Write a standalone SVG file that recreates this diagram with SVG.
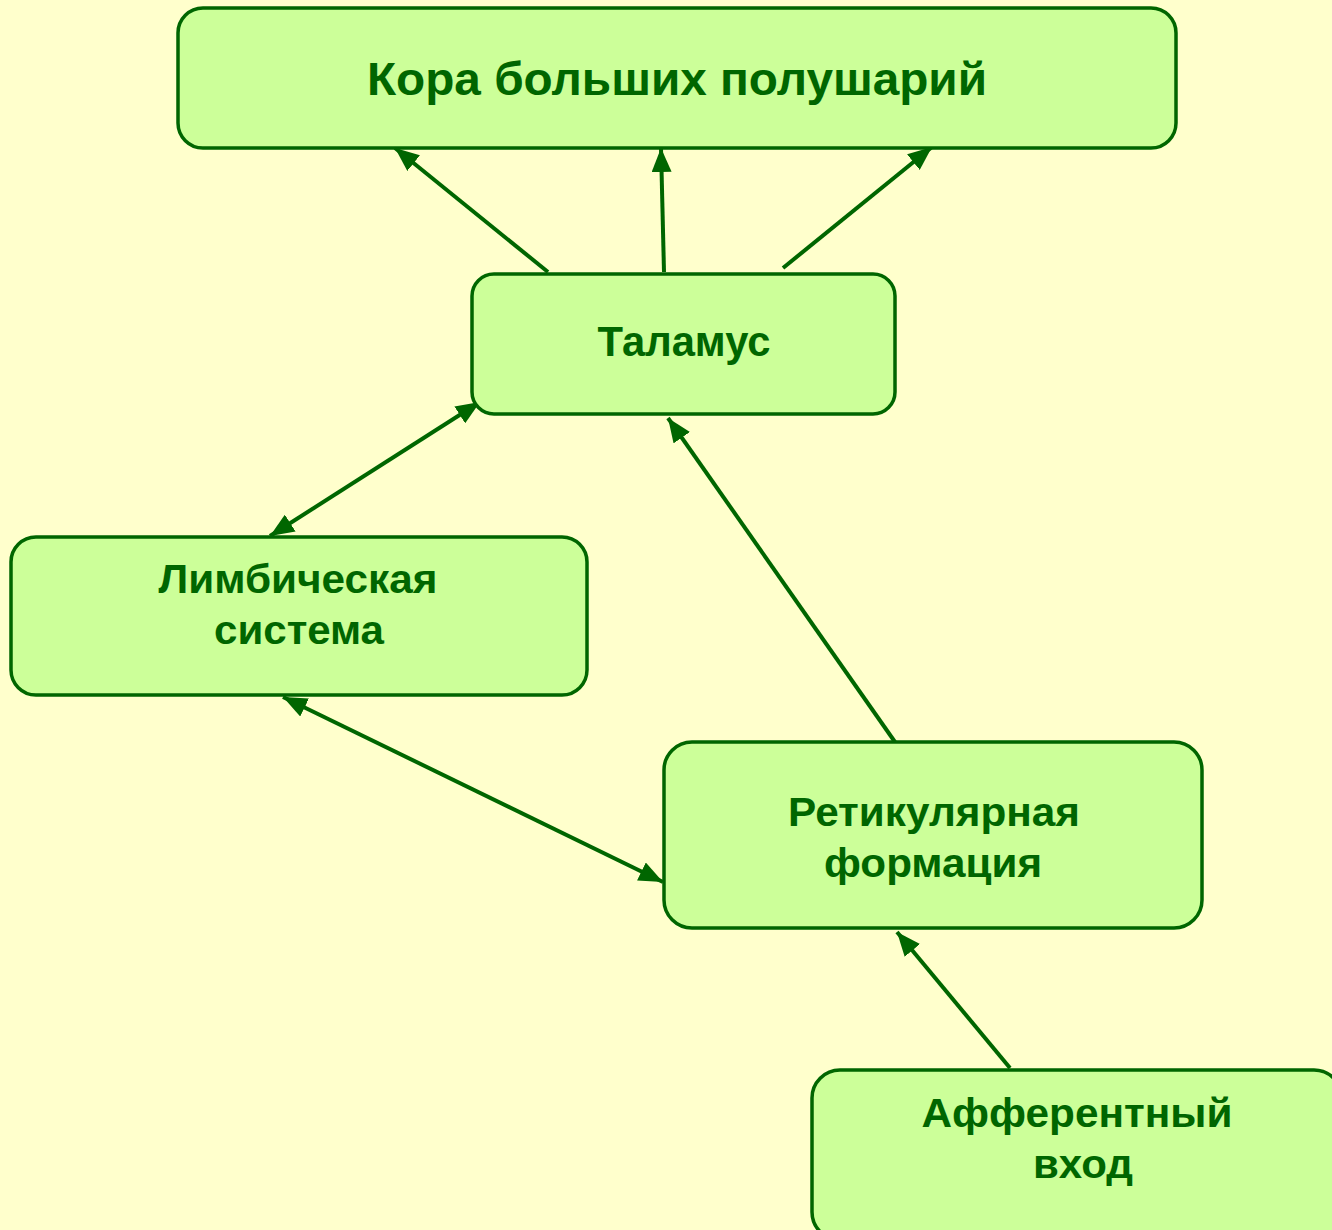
<svg xmlns="http://www.w3.org/2000/svg" width="1332" height="1230" viewBox="0 0 1332 1230">
<style>
.box{fill:#CCFF99;stroke:#006600;stroke-width:3.5}
.t{font-family:"Liberation Sans",Arial,sans-serif;font-weight:bold;fill:#006600;text-anchor:middle;font-size:40px}
.c{stroke:#006600;stroke-width:4;fill:none}
</style>
<defs>
<marker id="ah" markerUnits="userSpaceOnUse" markerWidth="24" markerHeight="20" refX="24" refY="10" orient="auto-start-reverse" viewBox="0 0 24 20">
<path d="M0,0 L24,10 L0,20 Z" fill="#006600"/>
</marker>
</defs>
<rect width="1332" height="1230" fill="#FFFFCC"/>
<g id="connectors">
<line class="c" x1="548" y1="272" x2="395" y2="148" marker-end="url(#ah)"/>
<line class="c" x1="664" y1="272" x2="661" y2="148" marker-end="url(#ah)"/>
<line class="c" x1="783" y1="268" x2="932" y2="147" marker-end="url(#ah)"/>
<line class="c" x1="270" y1="536" x2="480" y2="402" marker-start="url(#ah)" marker-end="url(#ah)"/>
<line class="c" x1="895" y1="742" x2="668" y2="418" marker-end="url(#ah)"/>
<line class="c" x1="283" y1="697" x2="663" y2="882" marker-start="url(#ah)" marker-end="url(#ah)"/>
<line class="c" x1="1010" y1="1068" x2="897" y2="932" marker-end="url(#ah)"/>
</g>
<g id="kora">
<rect class="box" x="178" y="8" width="998" height="140" rx="25"/>
<text class="t" x="677" y="95" style="font-size:46px" textLength="620" lengthAdjust="spacingAndGlyphs">Кора больших полушарий</text>
</g>
<g id="talamus">
<rect class="box" x="472" y="274" width="423" height="140" rx="22"/>
<text class="t" x="684" y="356" style="font-size:42px" textLength="173" lengthAdjust="spacingAndGlyphs">Таламус</text>
</g>
<g id="limbic">
<rect class="box" x="11" y="537" width="576" height="158" rx="25"/>
<text class="t" x="298" y="593" textLength="279" lengthAdjust="spacingAndGlyphs">Лимбическая</text>
<text class="t" x="299" y="644" textLength="170" lengthAdjust="spacingAndGlyphs">система</text>
</g>
<g id="reticular">
<rect class="box" x="664" y="742" width="538" height="186" rx="28"/>
<text class="t" x="934" y="826" textLength="292" lengthAdjust="spacingAndGlyphs">Ретикулярная</text>
<text class="t" x="933" y="877" textLength="218" lengthAdjust="spacingAndGlyphs">формация</text>
</g>
<g id="afferent">
<rect class="box" x="812" y="1070" width="530" height="170" rx="28"/>
<text class="t" x="1077" y="1127" textLength="311" lengthAdjust="spacingAndGlyphs">Афферентный</text>
<text class="t" x="1083" y="1178" textLength="100" lengthAdjust="spacingAndGlyphs">вход</text>
</g>
</svg>
